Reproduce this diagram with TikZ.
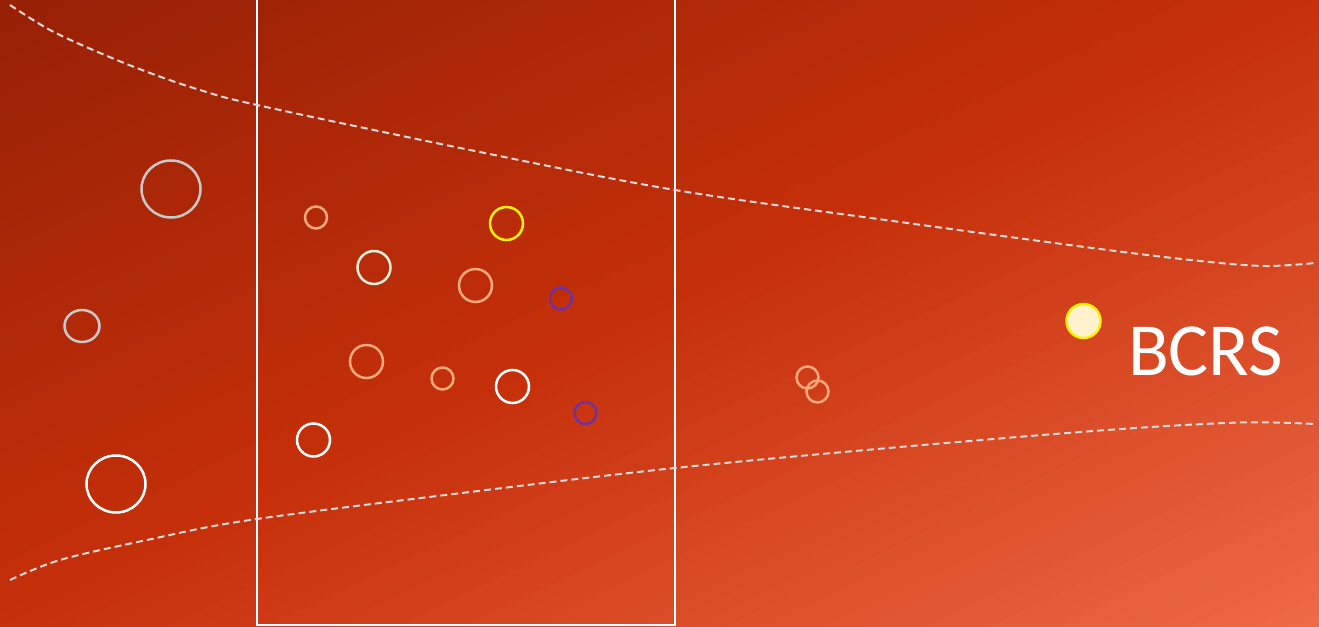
\documentclass[tikz,border=0pt]{standalone}
\usepackage{fontspec}
\setmainfont{Carlito}
\definecolor{bgA}{HTML}{972005}
\definecolor{bgB}{HTML}{C6300A}
\definecolor{bgC}{HTML}{EF6A46}
\definecolor{ringgray}{HTML}{C9C9C9}
\definecolor{salmon}{HTML}{F4A97C}
\definecolor{mint}{HTML}{E2F0D9}
\definecolor{violet}{HTML}{7030A0}
\definecolor{sunfill}{HTML}{FFF2CC}
\definecolor{dashgray}{HTML}{DADADA}
\tikzset{
  ring/.style={circle, inner sep=0pt, line width=1.25pt, fill=none},
  smallring/.style={ring, minimum size=11pt},
  midring/.style={ring, minimum size=16.5pt},
  bigring/.style={line width=1.25pt},
  dashline/.style={draw=dashgray, line width=1pt, dash pattern=on 3.5pt off 2pt},
  frameline/.style={draw=white, line width=1pt},
}
\begin{document}
\begin{tikzpicture}[x=0.5pt,y=-0.5pt]
\useasboundingbox (0,0) rectangle (1319,627);
% background gradient (diagonal, isolines parallel to anti-diagonal)
\begin{scope}
\clip (0,0) rectangle (1319,627);
\foreach \i in {0,...,39}{
  \pgfmathsetmacro\xa{\i/40*1319}
  \pgfmathsetmacro\xb{(\i+1.4)/40*1319}
  \pgfmathtruncatemacro\p{(\i+0.5)*2.5}
  \fill[bgB!\p!bgA] (\xa,0) -- (\xb,0) -- ({\xb-1319},627) -- ({\xa-1319},627) -- cycle;
}
\foreach \i in {40,...,79}{
  \pgfmathsetmacro\xa{\i/40*1319}
  \pgfmathsetmacro\xb{(\i+1.4)/40*1319}
  \pgfmathtruncatemacro\p{(\i-40+0.5)*2.5}
  \fill[bgC!\p!bgB] (\xa,0) -- (\xb,0) -- ({\xb-1319},627) -- ({\xa-1319},627) -- cycle;
}
\end{scope}
% frame (top edge outside the picture)
\draw[frameline] (257,-3) -- (257,625) -- (675,625) -- (675,-3);
% dashed boundary curves
\draw[dashline] plot[smooth, tension=0.55] coordinates {(10,5) (50,30) (100,53) (150,73) (200,90) (257,105) (470,150) (675,190) (900,222) (1100,249) (1200,261) (1265,266) (1315,263)};
\draw[dashline] plot[smooth, tension=0.55] coordinates {(10,580) (60,560) (147,540) (250,520) (470,492) (675,468) (900,447) (1107,430) (1240,422.5) (1315,424)};
% left region
\draw[bigring, ringgray] (171,189) ellipse [x radius=29.5, y radius=28.5];
\draw[bigring, ringgray] (82,326) ellipse [x radius=17.5, y radius=16];
\draw[bigring, white] (116,484) ellipse [x radius=29.5, y radius=28.5];
% frame region
\node[smallring, draw=salmon] (s1) at (316,217.5) {};
\node[midring, draw=mint] (m1) at (374,267.5) {};
\node[midring, draw=yellow] (y1) at (506.5,223.5) {};
\node[midring, draw=salmon] (s2) at (475.5,285.5) {};
\node[smallring, draw=violet] (v1) at (561,298.5) {};
\node[midring, draw=salmon] (s3) at (366.5,361.5) {};
\node[smallring, draw=salmon] (s4) at (442.5,378.5) {};
\node[midring, draw=white] (w1) at (512.5,386.5) {};
\node[smallring, draw=violet] (v2) at (585.5,413) {};
\node[midring, draw=white] (w2) at (313.5,440) {};
% right region
\node[smallring, draw=salmon] (s5) at (807.5,377.5) {};
\node[smallring, draw=salmon] (s6) at (817.5,391.5) {};
\node[ring, minimum size=17pt, draw=yellow, fill=sunfill] (sun) at (1083.5,321) {};
\node[anchor=base, inner sep=0pt, text=white, font=\fontsize{37.5}{40}\selectfont] (bcrs) at (1205.5,375) {BCRS};
\end{tikzpicture}
\end{document}
